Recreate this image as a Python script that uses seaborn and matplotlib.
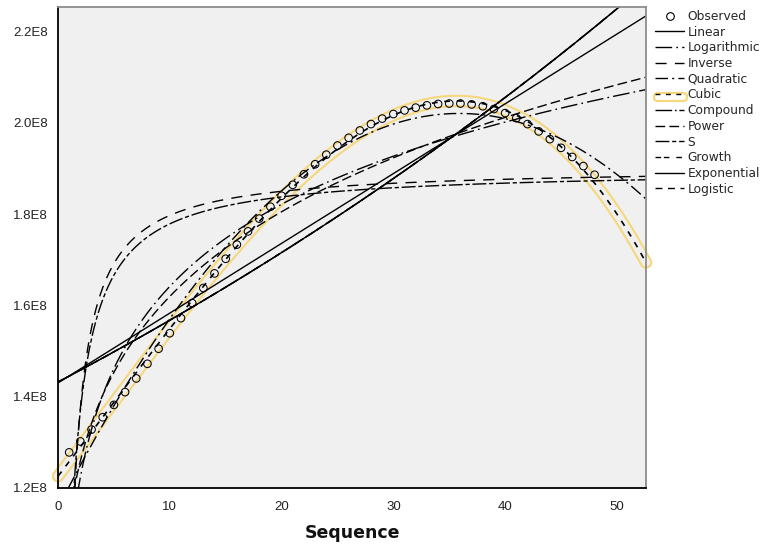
import numpy as np
import pandas as pd
import matplotlib
matplotlib.use("Agg")
import matplotlib.pyplot as plt
import seaborn as sns
from matplotlib.lines import Line2D
from matplotlib.patches import FancyBboxPatch

# ---------------- data (values in units of 1E8) ----------------
sequence = list(range(1, 49))
observed = [1.278, 1.302, 1.328, 1.355, 1.382, 1.410, 1.440, 1.472, 1.505, 1.539,
            1.572, 1.605, 1.638, 1.670, 1.702, 1.733, 1.762, 1.790, 1.816, 1.840,
            1.864, 1.887, 1.909, 1.930, 1.950, 1.967, 1.983, 1.997, 2.009, 2.019,
            2.027, 2.033, 2.038, 2.041, 2.042, 2.042, 2.040, 2.036, 2.030, 2.021,
            2.010, 1.997, 1.981, 1.964, 1.945, 1.925, 1.905, 1.886]
models = ["Linear", "Logarithmic", "Inverse", "Quadratic", "Cubic", "Compound",
          "Power", "S", "Growth", "Exponential", "Logistic"]
y_ticks = [1.2e8, 1.4e8, 1.6e8, 1.8e8, 2.0e8, 2.2e8]
y_tick_labels = ["1.2E8", "1.4E8", "1.6E8", "1.8E8", "2.0E8", "2.2E8"]
x_ticks = [0, 10, 20, 30, 40, 50]

# ---------------- styles ----------------
styles = {
    "Linear": "-",
    "Logarithmic": (0, (12, 3, 1.2, 3)),
    "Inverse": (0, (8, 6)),
    "Quadratic": (0, (9, 3, 1.5, 3)),
    "Cubic": (0, (3.5, 4)),
    "Compound": (0, (12, 2, 1.2, 2)),
    "Power": (0, (7, 3)),
    "S": (0, (10, 2, 3, 2)),
    "Growth": (0, (4, 2, 4, 5)),
    "Exponential": "-",
    "Logistic": (0, (5, 4)),
}
BG = "#F0F0F0"
HL = "#F6D77C"

# ---------------- fit the curve-estimation models to the observed data ----------------
t = np.array(sequence, dtype=float)
y = np.array(observed) * 1e8
XMAX = 52.6
grid = np.linspace(0.0, XMAX, 600)
gpos = np.linspace(0.02, XMAX, 3000)

curves = {}
c = np.polyfit(t, y, 1); curves["Linear"] = (grid, np.polyval(c, grid))
c = np.polyfit(np.log(t), y, 1); curves["Logarithmic"] = (gpos, np.polyval(c, np.log(gpos)))
c = np.polyfit(1 / t, y, 1); curves["Inverse"] = (gpos, np.polyval(c, 1 / gpos))
c = np.polyfit(t, y, 2); curves["Quadratic"] = (grid, np.polyval(c, grid))
c = np.polyfit(t, y, 3); curves["Cubic"] = (grid, np.polyval(c, grid))
c = np.polyfit(t, np.log(y), 1); expo = (grid, np.exp(np.polyval(c, grid)))
curves["Compound"] = expo
curves["Growth"] = expo
curves["Exponential"] = expo
curves["Logistic"] = expo
c = np.polyfit(np.log(t), np.log(y), 1); curves["Power"] = (gpos, np.exp(np.polyval(c, np.log(gpos))))
c = np.polyfit(1 / t, np.log(y), 1); curves["S"] = (gpos, np.exp(np.polyval(c, 1 / gpos)))

# ---------------- figure ----------------
sns.set_style("white")
plt.rcParams["font.family"] = ["Liberation Sans", "DejaVu Sans"]

fig = plt.figure(figsize=(7.65, 5.46), dpi=100)
ax = fig.add_axes([58 / 765, 1 - 488 / 546, (646 - 58) / 765, (488 - 7) / 546])
ax.set_facecolor(BG)

# highlight around the cubic curve (selection outline)
cx, cy = curves["Cubic"]
ax.plot(cx, cy, color=HL, lw=9.0, solid_capstyle="round", clip_on=False, zorder=1)
ax.plot(cx, cy, color=BG, lw=6.0, solid_capstyle="round", clip_on=False, zorder=1.1)

sns.scatterplot(x=t, y=y, ax=ax, marker="o", s=30, facecolor="none",
                edgecolor="black", linewidth=0.75, zorder=3)

for m in models:
    gx, gy = curves[m]
    df = pd.DataFrame({"x": gx, "y": gy})
    sns.lineplot(data=df, x="x", y="y", ax=ax, color="black",
                 lw=1.2 if m == "Cubic" else 1.0,
                 linestyle=styles[m], sort=False, estimator=None, zorder=2)

ax.set_xlim(0, XMAX)
ax.set_ylim(1.2e8, 2.2534e8)
ax.set_xticks(x_ticks)
ax.set_yticks(y_ticks)
ax.set_yticklabels(y_tick_labels)
ax.tick_params(axis="both", direction="out", length=7, width=1.2, color="black",
               labelsize=9.5, labelcolor="#222222")
ax.tick_params(axis="y", pad=0.5)
ax.tick_params(axis="x", pad=2)
ax.set_ylabel("")
ax.set_xlabel("Sequence", fontsize=12.5, fontweight="bold", family="DejaVu Sans",
              labelpad=8, color="#111111")

for s in ["left", "bottom"]:
    ax.spines[s].set_color("black")
    ax.spines[s].set_linewidth(1.3)
for s in ["top", "right"]:
    ax.spines[s].set_color("#8C8C8C")
    ax.spines[s].set_linewidth(1.3)

# legend
handles = [Line2D([], [], marker="o", markersize=5.5, markerfacecolor="none",
                  markeredgecolor="black", markeredgewidth=0.8, linestyle="none")]
labels = ["Observed"]
for m in models:
    handles.append(Line2D([], [], color="black", lw=1.0, linestyle=styles[m]))
    labels.append(m)
leg = fig.legend(handles, labels, loc="upper left", bbox_to_anchor=(655 / 765, 1 - 10 / 546),
                 frameon=False, handlelength=2.4, handletextpad=0.25,
                 labelspacing=0.22, borderaxespad=0, borderpad=0,
                 prop={"family": "DejaVu Sans", "size": 8.8})

# yellow selection box around the Cubic legend sample
box = FancyBboxPatch((654 / 765, 1 - 101 / 546), 33 / 765, 8 / 546,
                     boxstyle="round,pad=0,rounding_size=0.006", transform=fig.transFigure,
                     facecolor="none", edgecolor=HL, lw=1.6)
fig.patches.append(box)

fig.savefig("out.png", dpi=100, facecolor="white")
